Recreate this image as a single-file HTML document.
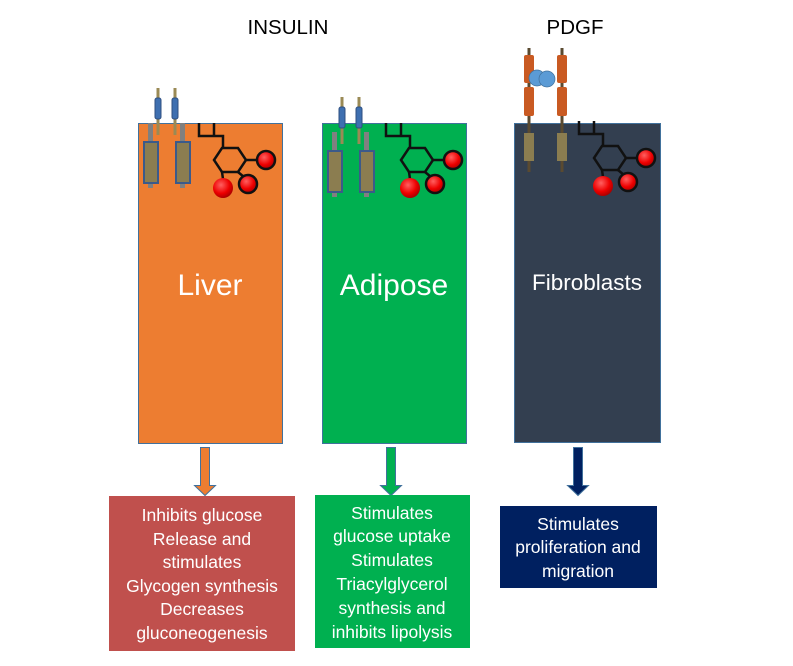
<!DOCTYPE html>
<html><head><meta charset="utf-8"><style>
body{margin:0;background:#fff;width:793px;height:661px;overflow:hidden}
text{font-family:"Liberation Sans",sans-serif}
</style></head><body>
<svg width="793" height="661" viewBox="0 0 793 661" xmlns="http://www.w3.org/2000/svg">
<defs>
<radialGradient id="rg" cx="0.4" cy="0.35" r="0.7"><stop offset="0" stop-color="#ff6060"/><stop offset="0.6" stop-color="#ee0000"/><stop offset="1" stop-color="#a00000"/></radialGradient>
<g id="mol">
<path d="M61 0 V13 H76 V0 M76 13 H85 V25" fill="none" stroke="#111" stroke-width="2.5"/>
<polygon points="84,25 100,25 108,37 100,49 84,49 76,37" fill="none" stroke="#111" stroke-width="2.5"/>
<line x1="108" y1="37" x2="120" y2="37" stroke="#111" stroke-width="2.5"/>
<line x1="100" y1="49" x2="106" y2="54" stroke="#111" stroke-width="2.5"/>
<line x1="84" y1="49" x2="85" y2="56" stroke="#111" stroke-width="2.5"/>
<circle cx="128" cy="37" r="9" fill="url(#rg)" stroke="#111" stroke-width="2.5"/>
<circle cx="110" cy="61" r="9" fill="url(#rg)" stroke="#111" stroke-width="2.5"/>
<circle cx="85" cy="65" r="10" fill="url(#rg)"/>
</g>
<g id="ins">
<line x1="20" y1="-35" x2="20" y2="12" stroke="#9a8a55" stroke-width="3"/>
<line x1="37" y1="-35" x2="37" y2="12" stroke="#9a8a55" stroke-width="3"/>
<rect x="17" y="-25" width="6" height="21" rx="2" fill="#3e6fb0" stroke="#2f4f80"/>
<rect x="34" y="-25" width="6" height="21" rx="2" fill="#3e6fb0" stroke="#2f4f80"/>
<line x1="12.5" y1="0" x2="12.5" y2="65" stroke="#808080" stroke-width="5"/>
<line x1="44.5" y1="0" x2="44.5" y2="65" stroke="#808080" stroke-width="5"/>
<rect x="6" y="19" width="14" height="41" fill="#8b7d50" stroke="#3b5a8a" stroke-width="2"/>
<rect x="38" y="19" width="14" height="41" fill="#8b7d50" stroke="#3b5a8a" stroke-width="2"/>
</g>
</defs>
<text x="288" y="34" font-size="20.5" text-anchor="middle">INSULIN</text>
<text x="575" y="34" font-size="20.5" text-anchor="middle">PDGF</text>

<rect x="138.5" y="123.5" width="144" height="320" fill="#ED7D31" stroke="#41719c"/>
<rect x="322.5" y="123.5" width="144" height="320" fill="#00B050" stroke="#41719c"/>
<rect x="514.5" y="123.5" width="146" height="319" fill="#333F50" stroke="#41719c"/>

<use href="#ins" x="138" y="123"/>
<use href="#mol" x="138" y="123"/>
<use href="#ins" x="322" y="132"/>
<use href="#mol" x="325" y="123"/>

<line x1="529" y1="48" x2="529" y2="172" stroke="#5a4a30" stroke-width="3"/>
<line x1="562" y1="48" x2="562" y2="172" stroke="#5a4a30" stroke-width="3"/>
<rect x="524" y="55" width="10" height="28" rx="2" fill="#c95a22"/>
<rect x="557" y="55" width="10" height="28" rx="2" fill="#c95a22"/>
<rect x="524" y="87" width="10" height="29" rx="2" fill="#c95a22"/>
<rect x="557" y="87" width="10" height="29" rx="2" fill="#c95a22"/>
<circle cx="537" cy="78" r="8" fill="#5b9bd5" stroke="#41719c" stroke-width="0.7"/>
<circle cx="547" cy="79" r="8" fill="#5b9bd5" stroke="#41719c" stroke-width="0.7"/>
<rect x="524" y="133" width="10" height="28" fill="#8b7d50"/>
<rect x="557" y="133" width="10" height="28" fill="#8b7d50"/>
<use href="#mol" x="518" y="121"/>

<text x="210" y="295" font-size="30" fill="#fff" text-anchor="middle">Liver</text>
<text x="394" y="295" font-size="30" fill="#fff" text-anchor="middle">Adipose</text>
<text x="587" y="290" font-size="22.5" fill="#fff" text-anchor="middle">Fibroblasts</text>

<path d="M200.5 447.5h9v38h6l-10.5 10l-10.5-10h6z" fill="#ED7D31" stroke="#41719c"/>
<path d="M386.5 447.5h9v38h6l-10.5 10l-10.5-10h6z" fill="#00B050" stroke="#41719c"/>
<path d="M573.5 447.5h9v38h6l-10.5 10l-10.5-10h6z" fill="#002060" stroke="#41719c"/>

<rect x="109" y="496" width="186" height="155" fill="#C0504D"/>
<rect x="315" y="495" width="155" height="153" fill="#00B050"/>
<rect x="500" y="506" width="157" height="82" fill="#002060"/>

<g font-size="17.5" fill="#fff" text-anchor="middle">
<text x="202" y="521">Inhibits glucose</text>
<text x="202" y="545">Release and</text>
<text x="202" y="568">stimulates</text>
<text x="202" y="592">Glycogen synthesis</text>
<text x="202" y="615">Decreases</text>
<text x="202" y="639">gluconeogenesis</text>
<text x="392" y="519">Stimulates</text>
<text x="392" y="542">glucose uptake</text>
<text x="392" y="566">Stimulates</text>
<text x="392" y="590">Triacylglycerol</text>
<text x="392" y="614">synthesis and</text>
<text x="392" y="638">inhibits lipolysis</text>
<text x="578" y="530">Stimulates</text>
<text x="578" y="553">proliferation and</text>
<text x="578" y="577">migration</text>
</g>
</svg>
</body></html>
